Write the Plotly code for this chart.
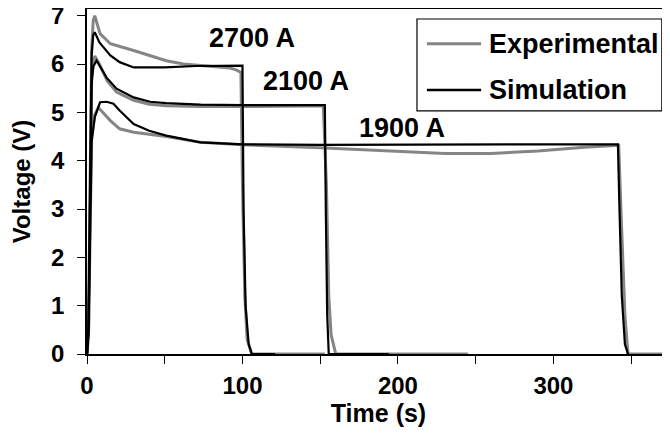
import plotly.graph_objects as go

# ---- data (time in s, voltage in V) ----
exp_2700_t = [0, 1, 2, 3, 4, 5, 8.4, 15, 30, 51, 62, 73, 85, 92, 96, 99, 100, 101.5, 103, 106, 153]
exp_2700_v = [0, 0.5, 3.5, 6.3, 6.9, 7.0, 6.63, 6.42, 6.28, 6.07, 6.0, 5.97, 5.94, 5.92, 5.88, 5.83, 3.5, 1.2, 0.3, 0, 0]

sim_2700_t = [0, 1, 2, 3, 4, 5, 8, 15, 21, 30, 50, 70, 100, 100.7, 102, 104, 106, 121]
sim_2700_v = [0, 0.5, 3.5, 6.2, 6.6, 6.66, 6.45, 6.18, 6.04, 5.93, 5.93, 5.96, 5.97, 3.0, 1.0, 0.2, 0, 0]

exp_2100_t = [0, 1, 2, 3, 5, 8, 13, 19, 30, 40, 51, 73, 100, 130, 152, 154, 155.5, 157, 160, 245]
exp_2100_v = [0, 0.5, 3.2, 5.7, 6.17, 6.0, 5.65, 5.42, 5.25, 5.17, 5.14, 5.12, 5.12, 5.13, 5.14, 3.5, 1.2, 0.4, 0, 0]

sim_2100_t = [0, 1, 2, 3, 4, 6.2, 12.6, 19, 30, 40.5, 51, 73, 100, 130, 153, 153.6, 154.5, 155.5, 194]
sim_2100_v = [0, 0.5, 3.2, 5.6, 5.95, 6.07, 5.72, 5.49, 5.31, 5.22, 5.19, 5.16, 5.15, 5.15, 5.15, 3.0, 0.8, 0, 0]

exp_1900_t = [0, 1, 2, 3, 5, 7.3, 15, 21, 30, 51, 73, 100, 150, 200, 230, 260, 290, 320, 340, 342, 344, 346, 348, 375]
exp_1900_v = [0, 0.5, 2.5, 4.5, 4.95, 5.1, 4.83, 4.66, 4.59, 4.5, 4.38, 4.33, 4.27, 4.19, 4.15, 4.15, 4.2, 4.28, 4.33, 4.32, 2.5, 0.8, 0, 0]

sim_1900_t = [0, 1, 2, 3, 5, 8.4, 12.6, 17, 21, 30, 40, 51, 73, 100, 150, 200, 250, 300, 341.5, 342.5, 344, 346, 348]
sim_1900_v = [0, 0.5, 2.5, 4.4, 4.9, 5.21, 5.22, 5.18, 5.04, 4.76, 4.62, 4.52, 4.38, 4.34, 4.33, 4.33, 4.33, 4.34, 4.34, 3.0, 1.2, 0.2, 0]

labels_text = ["2700 A", "2100 A", "1900 A"]
labels_t = [106.4, 141, 202.6]
labels_v = [6.54, 5.66, 4.675]

legend_names = ["Experimental", "Simulation"]

x_tickvals = [0, 100, 200, 300]
y_tickvals = [0, 1, 2, 3, 4, 5, 6, 7]

GRAY = "#858585"
BLACK = "#000000"
FONT = "Liberation Sans, Arial, sans-serif"

fig = go.Figure()

exp_sets = [(exp_2700_t, exp_2700_v), (exp_2100_t, exp_2100_v), (exp_1900_t, exp_1900_v)]
sim_sets = [(sim_2700_t, sim_2700_v), (sim_2100_t, sim_2100_v), (sim_1900_t, sim_1900_v)]

for t, v in exp_sets:
    fig.add_trace(go.Scatter(x=t, y=v, mode="lines", name=legend_names[0],
                             line=dict(color=GRAY, width=3), showlegend=False))
for t, v in sim_sets:
    fig.add_trace(go.Scatter(x=t, y=v, mode="lines", name=legend_names[1],
                             line=dict(color=BLACK, width=2.2), showlegend=False))

for txt, t, v in zip(labels_text, labels_t, labels_v):
    fig.add_annotation(x=t, y=v, text=txt, showarrow=False,
                       font=dict(family=FONT, size=27, color="black", weight="bold"))

# ---- legend box drawn in paper coordinates ----
fig.add_shape(type="rect", xref="paper", yref="paper", x0=0.566, x1=0.986, y0=0.705, y1=0.971,
              line=dict(color="black", width=1.2), fillcolor="white", layer="above")
legend_colors = [GRAY, BLACK]
legend_widths = [3, 2.5]
legend_y = [0.899, 0.765]
for name, col, w, yy in zip(legend_names, legend_colors, legend_widths, legend_y):
    fig.add_shape(type="line", xref="paper", yref="paper", x0=0.583, x1=0.676, y0=yy, y1=yy,
                  line=dict(color=col, width=w), layer="above")
    fig.add_annotation(xref="paper", yref="paper", x=0.686, y=yy, xanchor="left", yanchor="middle",
                       text=name, showarrow=False,
                       font=dict(family=FONT, size=27, color="black", weight="bold"))

# page body has an 8px margin, so the figure is 8px smaller than the window
fig.update_layout(
    width=662, height=425,
    margin=dict(l=79, r=0, t=1, b=79),
    paper_bgcolor="white", plot_bgcolor="white",
    font=dict(family=FONT, size=24, color="black", weight="bold"),
    showlegend=False,
)

fig.update_xaxes(range=[0, 375], tickvals=x_tickvals, ticks="outside", ticklen=8,
                 tickcolor="black", showline=True, linecolor="black", linewidth=1.5,
                 mirror=True, showgrid=False, zeroline=False, automargin=False,
                 minor=dict(dtick=50, tick0=0, ticks="outside", ticklen=8, tickcolor="black"),
                 tickfont=dict(family=FONT, size=24, weight="bold"),
                 title=dict(text="Time (s)", font=dict(family=FONT, size=25, weight="bold"), standoff=6),
                 ticklabelstandoff=1, ticklabeloverflow="allow")
fig.update_yaxes(range=[0, 7.14], tickvals=y_tickvals, ticks="outside", ticklen=8,
                 tickcolor="black", showline=True, linecolor="black", linewidth=1.5,
                 mirror=False, showgrid=False, zeroline=False, automargin=False,
                 tickfont=dict(family=FONT, size=24, weight="bold"),
                 title=dict(text="Voltage (V)", font=dict(family=FONT, size=24, weight="bold"), standoff=14),
                 ticklabelstandoff=8, ticklabeloverflow="allow")

fig.write_html("out.html")
